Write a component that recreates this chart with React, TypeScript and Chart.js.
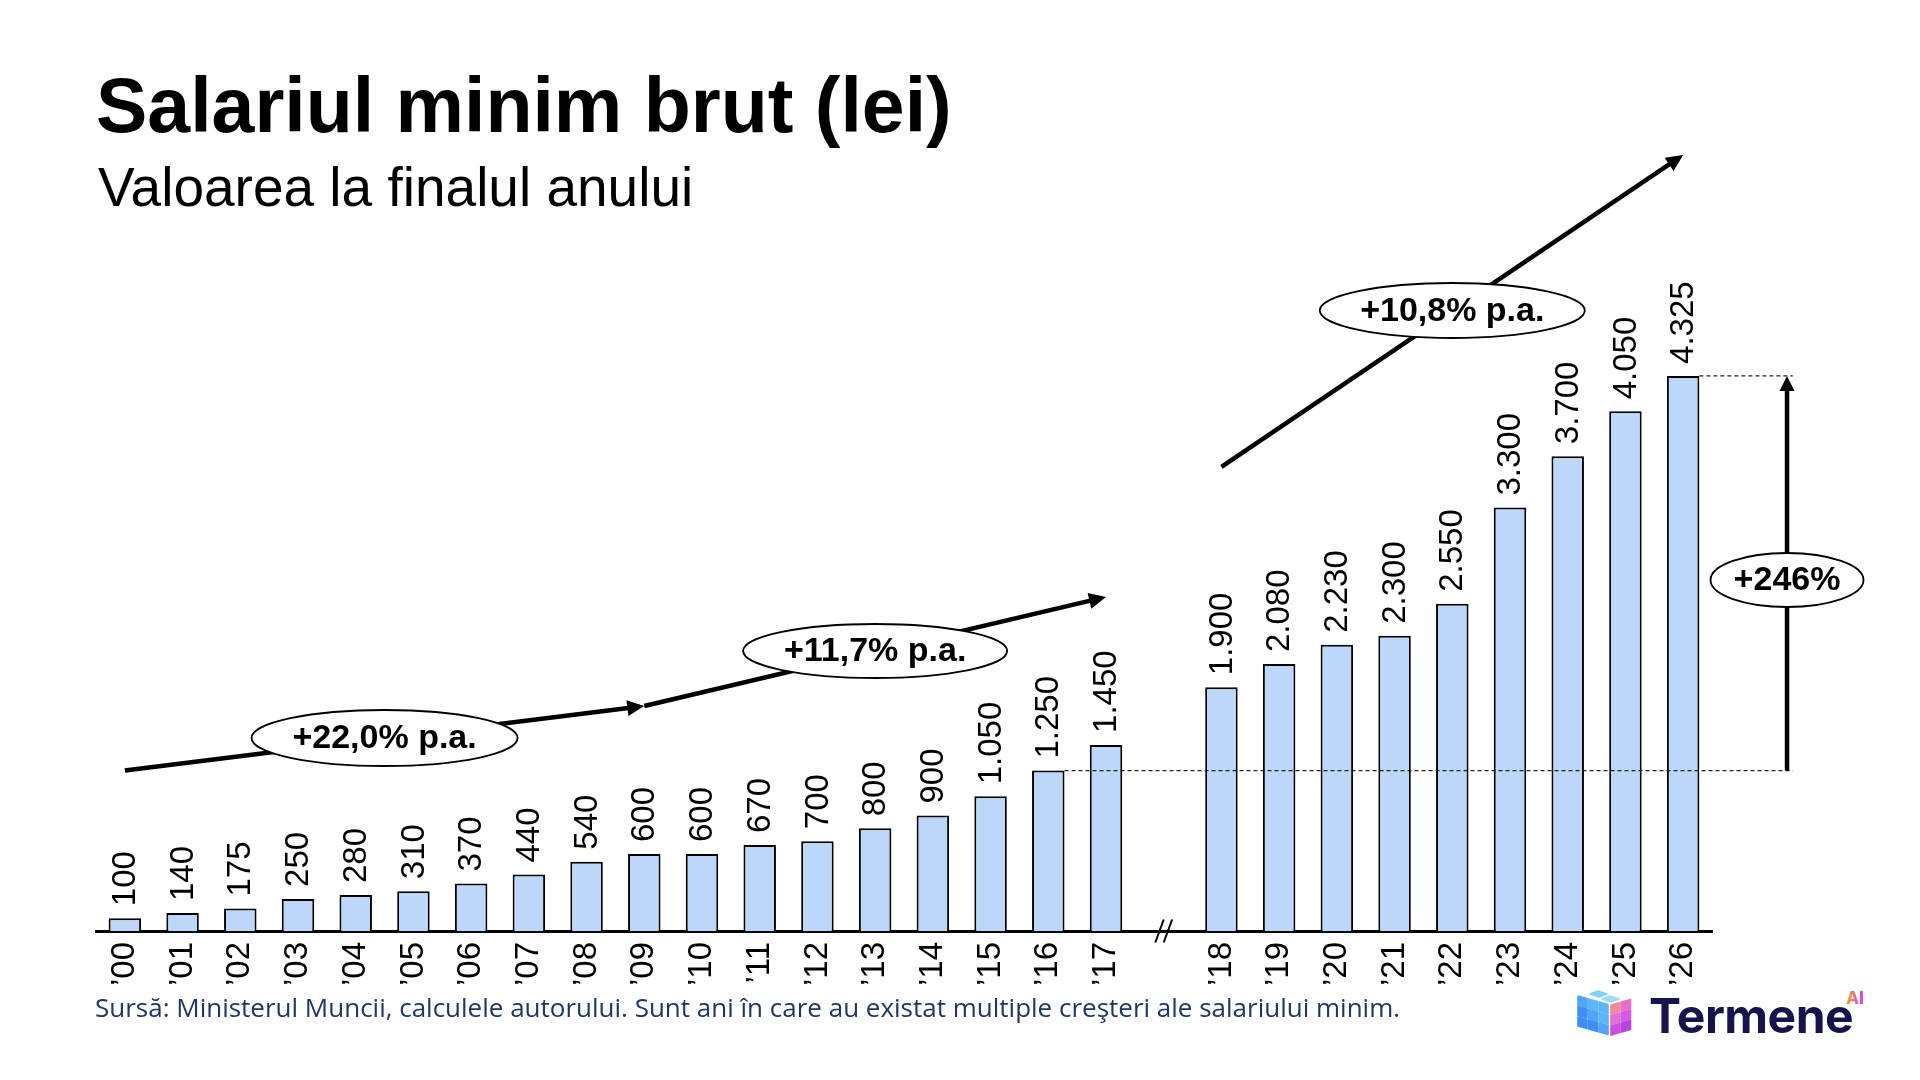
import React, { useEffect, useRef } from 'react';
import { Chart, registerables } from 'chart.js';

Chart.register(...registerables);

// years on the axis; the empty one is the break between '17 and '18
const years = [
  '’00', '’01', '’02', '’03', '’04', '’05', '’06', '’07', '’08', '’09',
  '’10', '’11', '’12', '’13', '’14', '’15', '’16', '’17', '',
  '’18', '’19', '’20', '’21', '’22', '’23', '’24', '’25', '’26',
];

const salaries: (number | null)[] = [
  100, 140, 175, 250, 280, 310, 370, 440, 540, 600,
  600, 670, 700, 800, 900, 1050, 1250, 1450, null,
  1900, 2080, 2230, 2300, 2550, 3300, 3700, 4050, 4325,
];

// annotations, in [category index, value]
const trendStarts = [[0, 1250], [9, 1753], [19, 3616]];
const trendEnds = [[9, 1753], [17, 2603], [27, 6047]];

const badgeTexts = ['+22,0% p.a.', '+11,7% p.a.', '+10,8% p.a.', '+246%'];
const badgeAt = [[4.5, 1504], [13, 2182], [23, 4835], [28.8, 2735]];
const badgeSize = [[133, 28], [132, 27], [132.5, 27.5], [76.5, 27]];

const fromYear = '’16';
const toYear = '’26';
const breakIndex = 18;
const growthArrowAt = 28.8;
const guideEnd = 28.9;

const fmt = (v: number) =>
  v >= 1000 ? `${Math.floor(v / 1000)}.${String(v % 1000).padStart(3, '0')}` : String(v);

function arrow(ctx: CanvasRenderingContext2D, x1: number, y1: number, x2: number, y2: number, head: number, half: number) {
  const a = Math.atan2(y2 - y1, x2 - x1);
  const bx = x2 - Math.cos(a) * head;
  const by = y2 - Math.sin(a) * head;
  ctx.beginPath();
  ctx.moveTo(x1, y1);
  ctx.lineTo(bx + Math.cos(a) * 1, by + Math.sin(a) * 1);
  ctx.stroke();
  ctx.beginPath();
  ctx.moveTo(x2, y2);
  ctx.lineTo(bx - Math.sin(a) * half, by + Math.cos(a) * half);
  ctx.lineTo(bx + Math.sin(a) * half, by - Math.cos(a) * half);
  ctx.closePath();
  ctx.fill();
}

const overlay = {
  id: 'overlay',
  afterDraw(chart: any) {
    const ctx: CanvasRenderingContext2D = chart.ctx;
    const xs = chart.scales.x;
    const ys = chart.scales.y;
    const bars = chart.getDatasetMeta(0).data;
    ctx.save();

    // value labels
    ctx.fillStyle = '#000';
    ctx.font = '33px "Liberation Sans", Arial, sans-serif';
    ctx.textAlign = 'left';
    ctx.textBaseline = 'middle';
    bars.forEach((bar: any, i: number) => {
      const v = salaries[i];
      if (v == null) return;
      ctx.save();
      ctx.translate(bar.x, bar.y - 12);
      ctx.rotate(-Math.PI / 2);
      ctx.fillText(fmt(v), 0, 1);
      ctx.restore();
    });

    // dashed guides
    const b0 = bars[years.indexOf(fromYear)];
    const b1 = bars[years.indexOf(toYear)];
    const gx = xs.getPixelForValue(guideEnd);
    ctx.strokeStyle = '#222';
    ctx.lineWidth = 1.3;
    ctx.setLineDash([4, 3]);
    [b0, b1].forEach((b: any) => {
      ctx.beginPath();
      ctx.moveTo(b.x + b.width / 2, b.y);
      ctx.lineTo(gx, b.y);
      ctx.stroke();
    });
    ctx.setLineDash([]);

    // axis break
    const bx = xs.getPixelForValue(breakIndex);
    const by = ys.getPixelForValue(0);
    ctx.strokeStyle = '#000';
    ctx.lineWidth = 2;
    [-4.2, 4.2].forEach((d) => {
      ctx.beginPath();
      ctx.moveTo(bx + d - 4.2, by + 11.5);
      ctx.lineTo(bx + d + 4.2, by - 11.5);
      ctx.stroke();
    });

    // trend arrows
    ctx.fillStyle = '#000';
    ctx.lineWidth = 4.5;
    trendStarts.forEach((s, i) => {
      const e = trendEnds[i];
      arrow(
        ctx,
        xs.getPixelForValue(s[0]), ys.getPixelForValue(s[1]),
        xs.getPixelForValue(e[0]), ys.getPixelForValue(e[1]),
        17, 8
      );
    });

    // growth arrow
    const ax = xs.getPixelForValue(growthArrowAt);
    arrow(ctx, ax, b0.y, ax, b1.y, 15, 7.5);

    // badges
    badgeTexts.forEach((t, i) => {
      const cx = xs.getPixelForValue(badgeAt[i][0]);
      const cy = ys.getPixelForValue(badgeAt[i][1]);
      ctx.beginPath();
      ctx.ellipse(cx, cy, badgeSize[i][0], badgeSize[i][1], 0, 0, Math.PI * 2);
      ctx.fillStyle = '#fff';
      ctx.fill();
      ctx.lineWidth = 1.8;
      ctx.strokeStyle = '#000';
      ctx.stroke();
      ctx.fillStyle = '#000';
      ctx.font = 'bold 34px "Liberation Sans", Arial, sans-serif';
      ctx.textAlign = 'center';
      ctx.textBaseline = 'middle';
      ctx.fillText(t, cx, cy + 1);
    });

    ctx.restore();
  },
};

function CubeIcon() {
  const left: JSX.Element[] = [];
  const blues = ['#5BB8F7', '#4FA6F6', '#3F8EF5'];
  for (let c = 0; c < 3; c++) {
    for (let r = 0; r < 3; r++) {
      const x = 2 + c * 10.5;
      const y = 6 + r * 10.5 + c * 3;
      const shade = Math.min(2, r + (2 - c) > 2 ? 2 : r + (2 - c) > 1 ? 1 : 0);
      left.push(
        <path
          key={`l${c}${r}`}
          d={`M${x},${y} L${x + 9},${y + 2.6} L${x + 9},${y + 11.6} L${x},${y + 9} Z`}
          fill={blues[shade]}
          stroke={blues[shade]}
          strokeWidth={1.6}
          strokeLinejoin="round"
        />
      );
    }
  }
  const pinks = [
    [0, 0, '#F08A9E'], [1, 0, '#E86FC8'],
    [0, 1, '#E070D8'], [1, 1, '#D45BE6'],
    [0, 2, '#C94FE0'], [1, 2, '#B844DC'],
  ];
  const right = pinks.map(([c, r, col]) => {
    const x = 35 + (c as number) * 10.5;
    const y = 15 + (r as number) * 10.5 - (c as number) * 3;
    return (
      <path
        key={`r${c}${r}`}
        d={`M${x},${y} L${x + 9},${y - 2.6} L${x + 9},${y + 6.4} L${x},${y + 9} Z`}
        fill={col as string}
        stroke={col as string}
        strokeWidth={1.6}
        strokeLinejoin="round"
      />
    );
  });
  return (
    <svg width={62} height={50} style={{ position: 'absolute', left: 1576, top: 990 }}>
      <path d="M14,4 L22,1 L31,4 L23,7 Z" fill="#7FD3FA" stroke="#7FD3FA" strokeWidth={1.6} strokeLinejoin="round" />
      <path d="M26,9 L34,6 L43,9 L35,12 Z" fill="#9ADCF9" stroke="#9ADCF9" strokeWidth={1.6} strokeLinejoin="round" />
      {left}
      {right}
    </svg>
  );
}

function App() {
  const canvasRef = useRef<HTMLCanvasElement | null>(null);
  const chartRef = useRef<Chart | null>(null);

  useEffect(() => {
    if (chartRef.current) chartRef.current.destroy();
    const ctx = canvasRef.current?.getContext('2d');
    if (!ctx) return;
    chartRef.current = new Chart(ctx, {
      type: 'bar',
      data: {
        labels: years,
        datasets: [
          {
            data: salaries,
            backgroundColor: '#BDD7FA',
            borderColor: '#000',
            borderWidth: 2,
            barPercentage: 0.563,
            categoryPercentage: 1,
          },
        ],
      },
      options: {
        responsive: false,
        devicePixelRatio: 1,
        animation: false,
        layout: { padding: { left: 96, right: 208, top: 161, bottom: 0 } },
        plugins: {
          legend: { display: false },
          tooltip: { enabled: false },
        },
        scales: {
          x: {
            grid: { display: false, drawTicks: false },
            border: { display: true, color: '#000', width: 3 },
            ticks: {
              color: '#000',
              font: { family: '"Liberation Sans", Arial, sans-serif', size: 33 },
              minRotation: 90,
              maxRotation: 90,
              autoSkip: false,
              padding: 11,
            },
            afterFit: (scale: any) => {
              scale.height = 149;
            },
          },
          y: { display: false, min: 0, max: 6000 },
        },
      },
      plugins: [overlay],
    });
    return () => {
      if (chartRef.current) {
        chartRef.current.destroy();
        chartRef.current = null;
      }
    };
  }, []);

  return (
    <div style={{ position: 'fixed', left: 0, top: 0, width: 1920, height: 1080, background: '#fff', overflow: 'hidden' }}>
      <canvas ref={canvasRef} width={1920} height={1080} style={{ position: 'absolute', left: 0, top: 0, width: 1920, height: 1080 }} />
      <div style={{ position: 'absolute', left: 96, top: 67, font: 'bold 77px/77px "Liberation Sans", Arial, sans-serif', color: '#000', whiteSpace: 'nowrap' }}>
        Salariul minim brut (lei)
      </div>
      <div style={{ position: 'absolute', left: 98, top: 160, font: '55px/55px "Liberation Sans", Arial, sans-serif', color: '#000', whiteSpace: 'nowrap' }}>
        Valoarea la finalul anului
      </div>
      <div style={{ position: 'absolute', left: 95, top: 994, font: '26px/26px "Open Sans", sans-serif', color: '#1F3763', whiteSpace: 'nowrap' }}>
        Sursă: Ministerul Muncii, calculele autorului. Sunt ani în care au existat multiple creşteri ale salariului minim.
      </div>
      <CubeIcon />
      <div style={{ position: 'absolute', left: 1649, top: 992, font: 'bold 48px/48px Inter, sans-serif', color: '#16144B', whiteSpace: 'nowrap', letterSpacing: -0.5 }}>
        Termene
      </div>
      <div
        style={{
          position: 'absolute', left: 1846, top: 990, font: '800 17px/17px Inter, sans-serif', whiteSpace: 'nowrap',
          background: 'linear-gradient(90deg, #F5A623, #D63AF0)', WebkitBackgroundClip: 'text', backgroundClip: 'text', color: 'transparent',
        }}
      >
        AI
      </div>
    </div>
  );
}

export default App;
